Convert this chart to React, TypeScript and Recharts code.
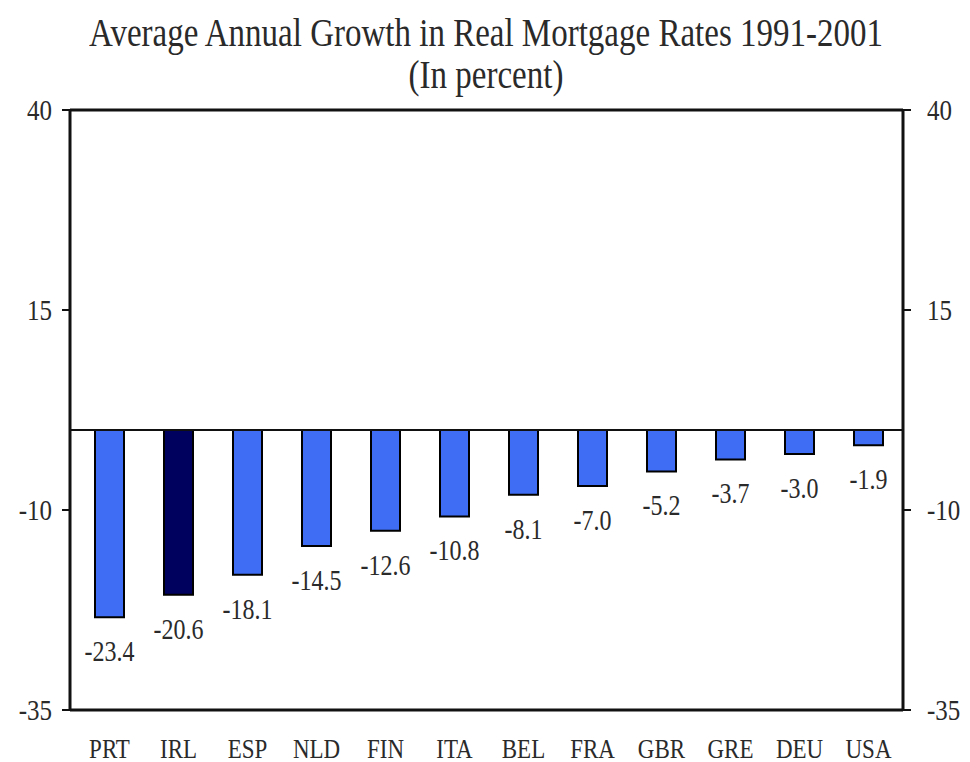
import React from 'react';
import { BarChart, Bar, XAxis, YAxis, Cell, ReferenceLine, LabelList } from 'recharts';

const categories = ['PRT', 'IRL', 'ESP', 'NLD', 'FIN', 'ITA', 'BEL', 'FRA', 'GBR', 'GRE', 'DEU', 'USA'];
const values = [-23.4, -20.6, -18.1, -14.5, -12.6, -10.8, -8.1, -7.0, -5.2, -3.7, -3.0, -1.9];
const yTicks = [-35, -10, 15, 40];
const highlighted = 'IRL';

const titleLines = ['Average Annual Growth in Real Mortgage Rates 1991-2001', '(In percent)'];

const data = categories.map((c, i) => ({ name: c, value: values[i] }));

const FONT = '"Liberation Serif", "Times New Roman", serif';
const TEXT = '#2a2a2a';
const SY = 1.2;

const LeftTick = (props: any) => {
  const { x, y, payload } = props;
  return (
    <g transform={`translate(${x - 8},${y}) scale(1,${SY})`}>
      <text x={0} y={0} textAnchor="end" dominantBaseline="central" fontFamily={FONT} fontSize={25} fill={TEXT}>
        {payload.value}
      </text>
    </g>
  );
};

const RightTick = (props: any) => {
  const { x, y, payload } = props;
  return (
    <g transform={`translate(${x + 14},${y}) scale(1,${SY})`}>
      <text x={0} y={0} textAnchor="start" dominantBaseline="central" fontFamily={FONT} fontSize={25} fill={TEXT}>
        {payload.value}
      </text>
    </g>
  );
};

const CatTick = (props: any) => {
  const { x, y, payload } = props;
  return (
    <g transform={`translate(${x},${y + 30}) scale(1,${SY})`}>
      <text x={0} y={0} textAnchor="middle" dominantBaseline="central" fontFamily={FONT} fontSize={23} fill={TEXT}>
        {payload.value}
      </text>
    </g>
  );
};

const ValueLabel = (props: any) => {
  const { x, y, width, height, value } = props;
  const bottom = Math.max(y, y + height);
  return (
    <g transform={`translate(${x + width / 2},${bottom + 34}) scale(1,${SY})`}>
      <text x={0} y={0} textAnchor="middle" dominantBaseline="central" fontFamily={FONT} fontSize={24} fill={TEXT}>
        {Number(value).toFixed(1)}
      </text>
    </g>
  );
};

export default function App() {
  return (
    <div style={{ position: 'absolute', left: 0, top: 0, width: 970, height: 762, background: '#fff' }}>
      <div
        style={{
          position: 'absolute',
          left: 0,
          top: 12,
          width: 970,
          textAlign: 'center',
          fontFamily: FONT,
          fontSize: 33,
          color: TEXT,
          lineHeight: '35px',
          transform: `scaleY(${SY})`,
          transformOrigin: 'top center',
        }}
      >
        {titleLines.map((t) => (
          <div key={t} style={{ paddingLeft: 2 }}>{t}</div>
        ))}
      </div>
      <BarChart
        width={970}
        height={762}
        data={data}
        margin={{ top: 110, right: 0, bottom: 0, left: 0 }}
        barSize={29}
      >
        <XAxis
          dataKey="name"
          xAxisId={0}
          axisLine={{ stroke: '#111', strokeWidth: 3 }}
          tickLine={false}
          tick={<CatTick />}
          height={52}
          interval={0}
          padding={{ left: 5, right: 0 }}
        />
        <YAxis
          yAxisId="left"
          orientation="left"
          domain={[-35, 40]}
          ticks={yTicks}
          width={70}
          axisLine={{ stroke: '#111', strokeWidth: 3 }}
          tickLine={{ stroke: '#111', strokeWidth: 2 }}
          tickSize={8}
          tick={<LeftTick />}
          allowDataOverflow
        />
        <YAxis
          yAxisId="right"
          orientation="right"
          domain={[-35, 40]}
          ticks={yTicks}
          width={67}
          axisLine={{ stroke: '#111', strokeWidth: 3 }}
          tickLine={{ stroke: '#111', strokeWidth: 2 }}
          tickSize={8}
          tick={<RightTick />}
          allowDataOverflow
        />
        <ReferenceLine yAxisId="left" y={40} stroke="#111" strokeWidth={3} />
        <ReferenceLine yAxisId="left" y={0} stroke="#111" strokeWidth={2} />
        <Bar dataKey="value" yAxisId="left" stroke="#000" strokeWidth={2} isAnimationActive={false}>
          {data.map((d) => (
            <Cell key={d.name} fill={d.name === highlighted ? '#00005e' : '#3f6ef5'} />
          ))}
          <LabelList dataKey="value" content={<ValueLabel />} />
        </Bar>
      </BarChart>
    </div>
  );
}
